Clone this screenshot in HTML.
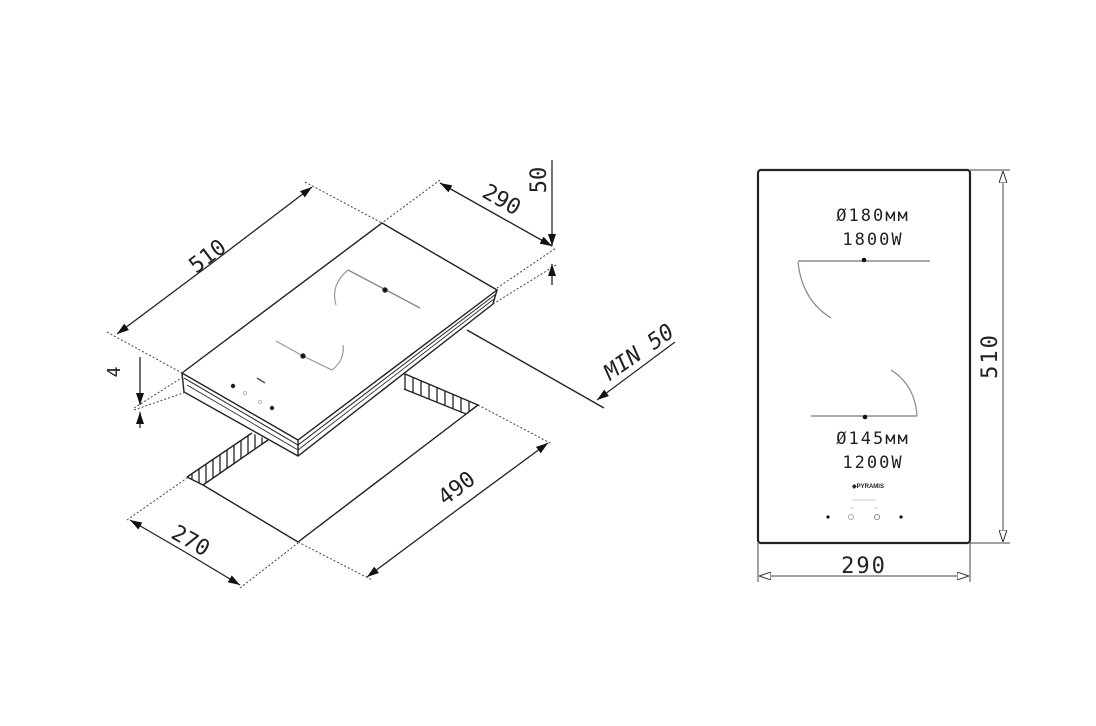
<!DOCTYPE html>
<html><head><meta charset="utf-8"><style>
html,body{margin:0;padding:0;background:#fff}
svg{display:block}
text{font-family:"DejaVu Sans Mono","Liberation Mono",monospace;fill:#222}
</style></head><body>
<svg width="1096" height="726" viewBox="0 0 1096 726" xmlns="http://www.w3.org/2000/svg">
<defs>
<marker id="a" viewBox="0 0 12 8" refX="12" refY="4" markerWidth="12" markerHeight="8" orient="auto" markerUnits="userSpaceOnUse"><path d="M0,0L12,4L0,8z" fill="#111"/></marker>
<marker id="h" viewBox="0 0 12 8" refX="12" refY="4" markerWidth="12" markerHeight="8" orient="auto" markerUnits="userSpaceOnUse"><path d="M0,0L12,4L0,8z" fill="#fff" stroke="#333" stroke-width="1"/></marker>
<clipPath id="c1"><path d="M187,477 L252,433 L268,440 L203,485 Z"/></clipPath>
<clipPath id="c2"><path d="M398,371 L478,405 L466,414 L404,389 Z"/></clipPath>
</defs>
<g stroke="#222" fill="none" stroke-width="1.4">
<!-- hatch left -->
<g clip-path="url(#c1)" stroke-width="1.3">
<path d="M192,460 L192,500 M199,460 L199,500 M206,450 L206,500 M213,440 L213,500 M220,440 L220,500 M227,430 L227,490 M234,425 L234,480 M241,420 L241,480 M248,420 L248,470 M255,420 L255,470 M262,420 L262,460"/>
</g>
<path d="M187,477 L252,433 M203,485 L268,440 M187,477 L203,485"/>
<!-- hatch right -->
<g clip-path="url(#c2)" stroke-width="1.3">
<path d="M405,360 L405,400 M413,360 L413,400 M421,360 L421,405 M429,360 L429,410 M437,370 L437,410 M445,370 L445,415 M453,370 L453,420 M461,380 L461,420 M469,380 L469,420"/>
</g>
<path d="M398,371 L478,405 L466,414 L404,389"/>
<!-- cutout outline -->
<path d="M203,485 L298,542 L478,405"/>
<!-- hob body -->
<path d="M182,373 L298,440 L497,290 L382,223 Z" fill="#fff"/>
<path d="M182,373 L184,392 L298,456 L493,304 L497,290" fill="#fff"/>
<path d="M182,373 L298,440 L497,290"/>
<path d="M298,440 L298,456"/>
<path d="M184,378 L298,445 L496,294" stroke-width="1"/>
<path d="M187,385 L298,450 L494,299" stroke-width="0.8"/>
<!-- zones -->
<path d="M348,270 L386,290 L420,308" stroke="#888" stroke-width="1.3"/>
<path d="M348,270 Q330,285 336,305" stroke="#999" stroke-width="1.2"/>
<path d="M276,341 L303,356 L332,370 Q345,360 343,345" stroke="#999" stroke-width="1.2"/>
<circle cx="385" cy="290" r="2" fill="#111"/>
<circle cx="303" cy="356" r="2" fill="#111"/>
<circle cx="233" cy="386" r="1.5" fill="#111"/><circle cx="272" cy="408" r="1.5" fill="#111"/>
<circle cx="245" cy="393" r="1.5" stroke="#aaa" stroke-width="0.8"/><circle cx="260" cy="402" r="1.5" stroke="#aaa" stroke-width="0.8"/>
<path d="M257,378 L265,383" stroke="#555" stroke-width="1.5"/>
<!-- MIN50 line -->
<path d="M467,330 L604,408"/>
<path d="M675,342 L597,400" stroke-width="1.2" marker-end="url(#a)"/>
<!-- dotted extension lines -->
<g stroke-dasharray="2,2" stroke-width="1" stroke="#444">
<path d="M107,332 L182,373"/><path d="M305,182 L382,223"/>
<path d="M440,180 L382,223"/><path d="M497,288 L556,248"/>
<path d="M493,304 L556,265"/>
<path d="M134,408 L183,377"/><path d="M134,410 L186,392"/>
<path d="M127,520 L187,478"/><path d="M240,588 L298,543"/>
<path d="M298,542 L372,580"/><path d="M478,405 L552,444"/>
</g>
<!-- dimension lines -->
<g stroke-width="1.3">
<path d="M216,260 L117,334" marker-end="url(#a)"/><path d="M216,260 L312,187" marker-end="url(#a)"/>
<path d="M495,214 L440,183" marker-end="url(#a)"/><path d="M495,214 L552,246" marker-end="url(#a)"/>
<path d="M552,160 L552,246" marker-end="url(#a)"/>
<path d="M552,285 L552,264" marker-end="url(#a)"/>
<path d="M140,357 L140,405" marker-end="url(#a)"/><path d="M140,428 L140,412" marker-end="url(#a)"/>
<path d="M185,552 L130,520" marker-end="url(#a)"/><path d="M185,552 L240,585" marker-end="url(#a)"/>
<path d="M457,510 L367,577" marker-end="url(#a)"/><path d="M457,510 L548,443" marker-end="url(#a)"/>
</g>
</g>
<g font-size="22">
<text transform="translate(212,262) rotate(-37)" text-anchor="middle">510</text>
<text transform="translate(498,206) rotate(30)" text-anchor="middle">290</text>
<text transform="translate(546,180) rotate(-90)" text-anchor="middle">50</text>
<text transform="translate(643,358) rotate(-35)" text-anchor="middle" font-style="italic">MIN 50</text>
<text transform="translate(120,372) rotate(-90)" text-anchor="middle" font-size="18">4</text>
<text transform="translate(187,547) rotate(30)" text-anchor="middle">270</text>
<text transform="translate(461,494) rotate(-37)" text-anchor="middle">490</text>
</g>
<!-- right plan view -->
<g stroke="#222" fill="none">
<rect x="758" y="170" width="212" height="373" rx="3" stroke-width="2.2"/>
<path d="M798,261 L930,261" stroke="#777" stroke-width="1.2"/>
<path d="M798,262 Q802,300 831,318" stroke="#888" stroke-width="1.2"/>
<path d="M811,416 L917,416" stroke="#777" stroke-width="1.2"/>
<path d="M891,370 Q915,385 917,416" stroke="#888" stroke-width="1.2"/>
<g stroke="#444" stroke-width="1">
<path d="M970,170 L1010,170 M970,543 L1010,543"/>
<path d="M758,543 L758,582 M970,543 L970,582"/>
<path d="M1003,356 L1003,171" marker-end="url(#h)"/><path d="M1003,356 L1003,542" marker-end="url(#h)"/>
<path d="M864,576 L759,576" marker-end="url(#h)"/><path d="M864,576 L969,576" marker-end="url(#h)"/>
</g>
<circle cx="864" cy="260" r="2.3" fill="#111" stroke="none"/>
<circle cx="865" cy="417" r="2.3" fill="#111" stroke="none"/>
<circle cx="828" cy="517" r="1.6" fill="#111" stroke="none"/>
<circle cx="901" cy="517" r="1.6" fill="#111" stroke="none"/>
<circle cx="851" cy="517" r="2.6" stroke="#aaa" stroke-width="0.9"/>
<circle cx="877" cy="517" r="2.6" stroke="#888" stroke-width="0.9"/>
<path d="M852,500 L876,500 M850,508 L854,508 M874,508 L878,508" stroke="#bbb" stroke-width="0.8"/>
</g>
<g text-anchor="middle" font-size="17" style="letter-spacing:2px">
<text x="873" y="221">Ø180мм</text>
<text x="873" y="245">1800W</text>
<text x="873" y="444">Ø145мм</text>
<text x="873" y="468">1200W</text>
</g>
<text x="868" y="488" font-size="6" font-weight="bold" text-anchor="middle" style="font-family:'Liberation Sans',sans-serif">◆PYRAMIS</text>
<text x="864" y="573" font-size="22" text-anchor="middle" style="letter-spacing:2px">290</text>
<text transform="translate(997,356) rotate(-90)" font-size="22" text-anchor="middle" style="letter-spacing:2px">510</text>
</svg>
</body></html>
